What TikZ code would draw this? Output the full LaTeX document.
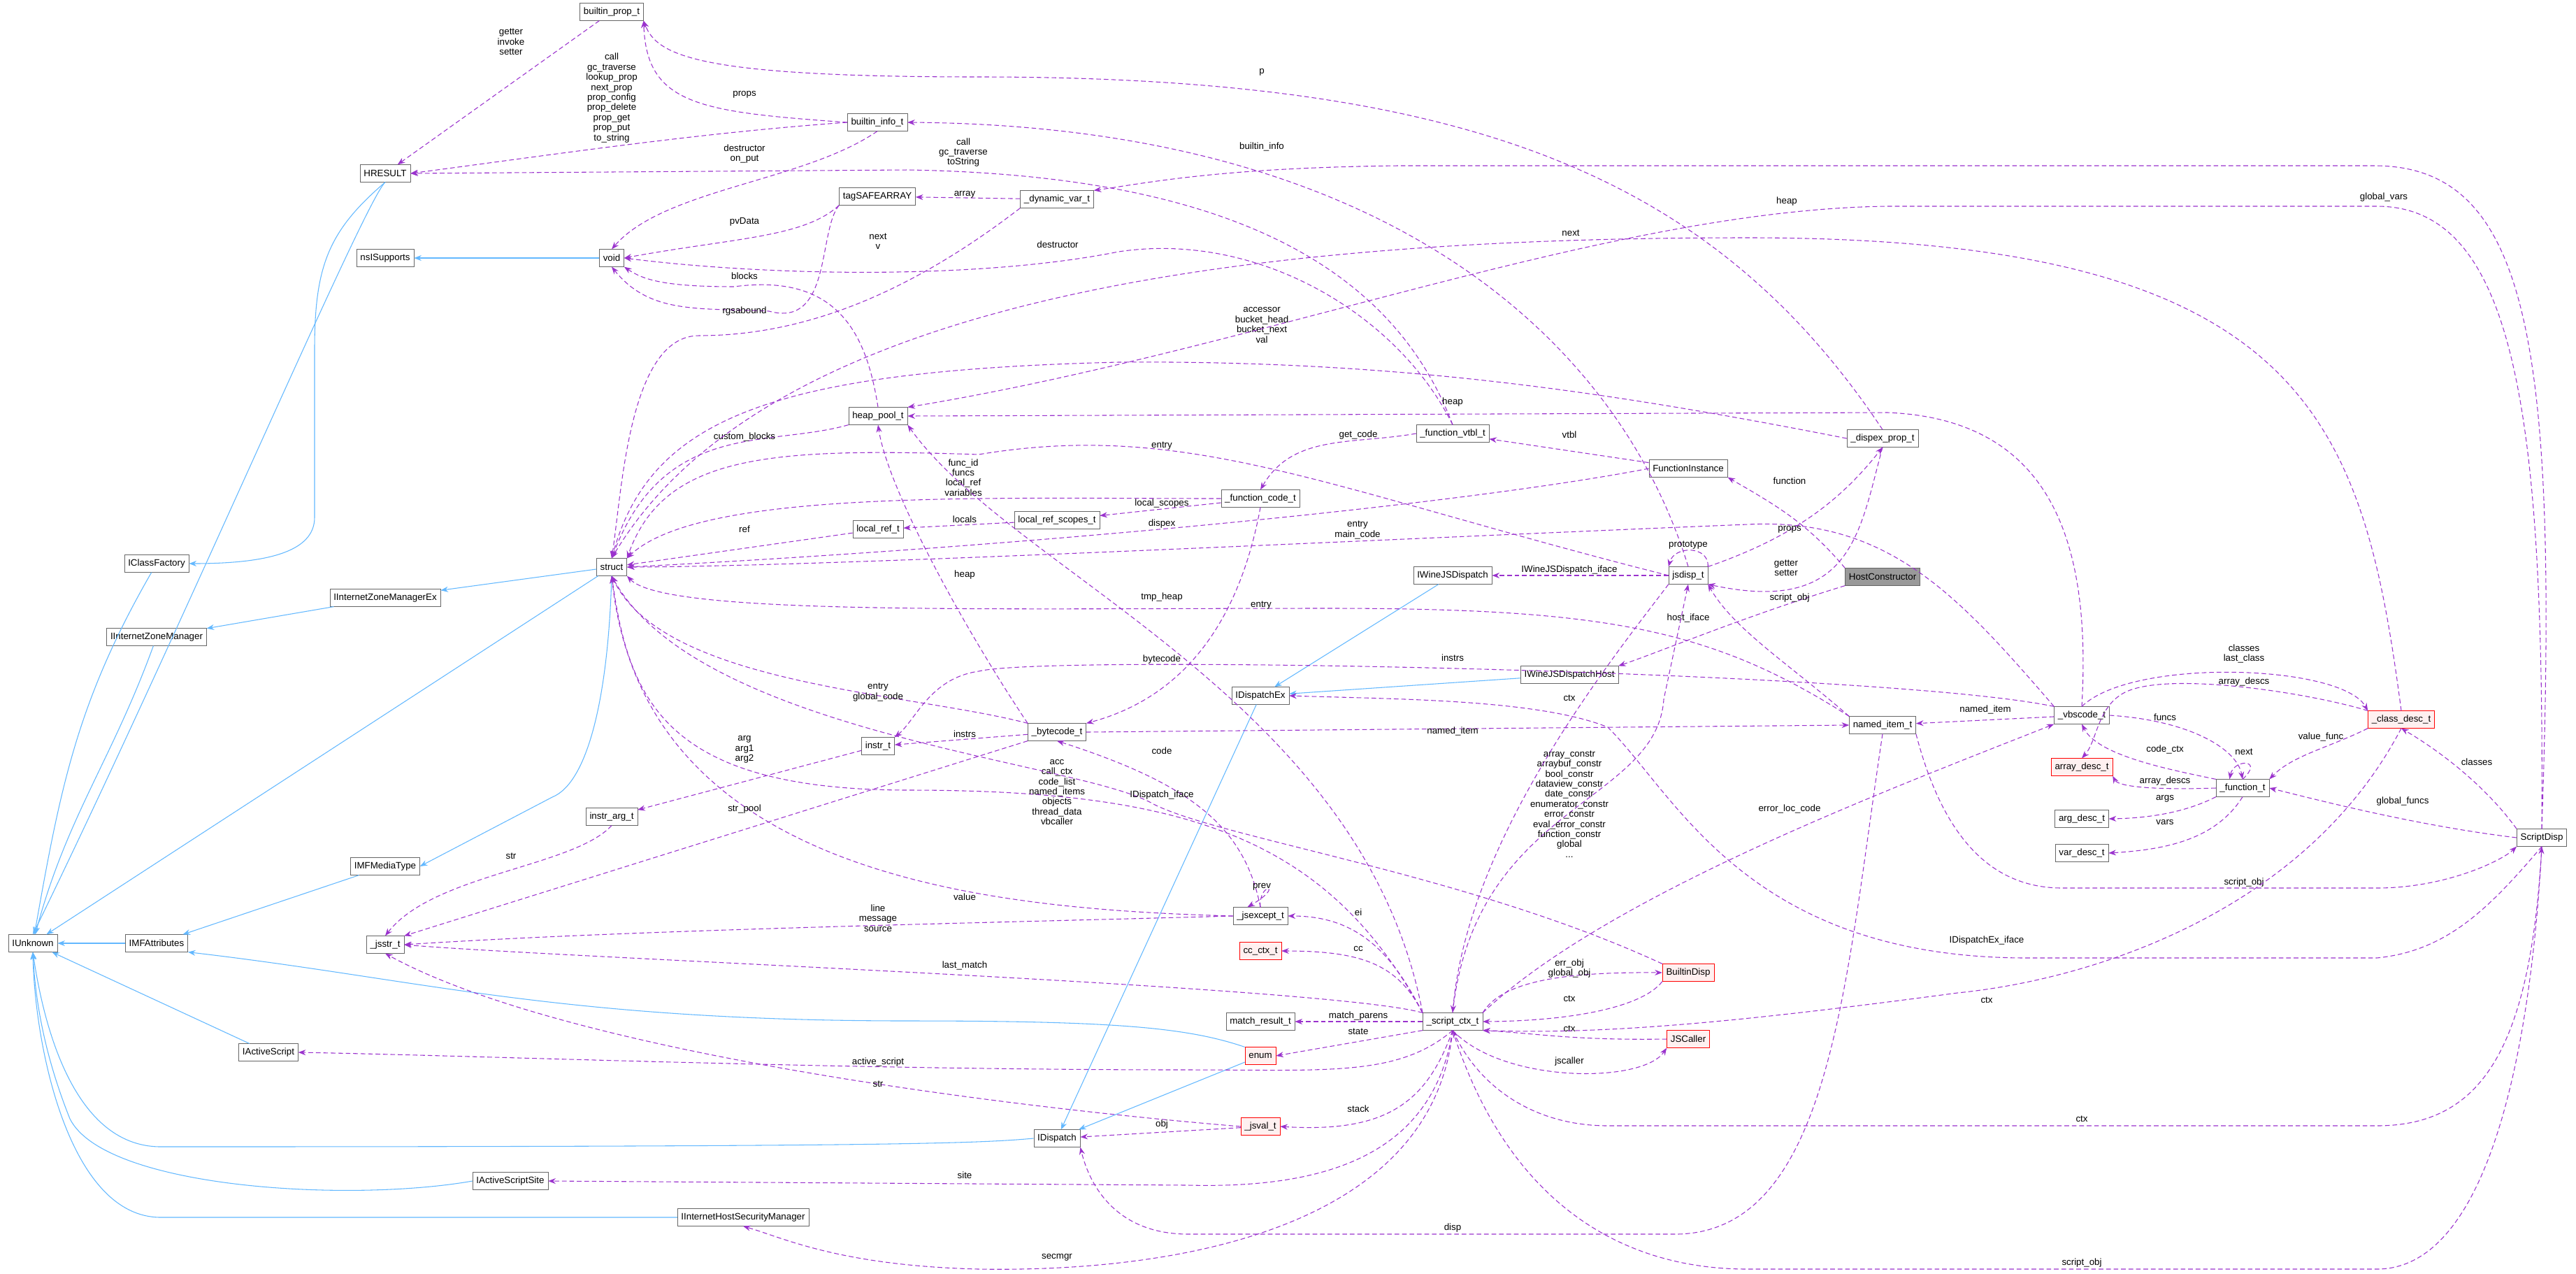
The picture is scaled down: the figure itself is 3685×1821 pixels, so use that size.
\documentclass[tikz,border=0pt]{standalone}
\usepackage{fontspec}
\setmainfont{Liberation Sans}
\usetikzlibrary{arrows.meta}
\definecolor{dep}{HTML}{9A32CD}
\definecolor{inh}{HTML}{63B8FF}
\tikzset{
 x=0.75pt,y=-0.75pt,
 box/.style={draw=black!60,fill=white,rectangle,minimum height=18.5pt,inner xsep=4pt,inner ysep=1pt,font=\fontsize{10}{11}\selectfont},
 redbox/.style={box,draw=red,fill=red!6},
 graybox/.style={box,draw=black!60,fill=black!40},
 dep/.style={draw=dep,thick,dash pattern=on 5pt off 3pt,-{Stealth[length=8pt,width=6pt]}},
 inh/.style={draw=inh,thick,-{Stealth[length=8pt,width=6pt]}},
 lbl/.style={font=\fontsize{10}{10.8}\selectfont,align=center,inner sep=0pt},
}
\begin{document}
\begin{tikzpicture}
\useasboundingbox (0,0) rectangle (3685,1821);
% nodes
\node[box] (builtinprop) at (875,17) {builtin\_prop\_t};
\node[box] (HRESULT) at (551,248) {HRESULT};
\node[box] (builtininfo) at (1255,175) {builtin\_info\_t};
\node[box] (tagSAFEARRAY) at (1255,281) {tagSAFEARRAY};
\node[box] (nsISupports) at (551,369) {nsISupports};
\node[box] (void) at (875,369) {void};
\node[box] (heappool) at (1256,595) {heap\_pool\_t};
\node[box] (localref) at (1256,757) {local\_ref\_t};
\node[box] (struct) at (875,811) {struct};
\node[box] (IClassFactory) at (224,806) {IClassFactory};
\node[box] (IIZMEx) at (551,855) {IInternetZoneManagerEx};
\node[box] (IIZM) at (224,911) {IInternetZoneManager};
\node[box] (instr) at (1256,1067) {instr\_t};
\node[box] (instrarg) at (875,1168) {instr\_arg\_t};
\node[box] (IMFMediaType) at (551,1239) {IMFMediaType};
\node[box] (IUnknown) at (47,1349) {IUnknown};
\node[box] (IMFAttributes) at (224,1349) {IMFAttributes};
\node[box] (jsstr) at (551,1351) {\_jsstr\_t};
\node[box] (IActiveScript) at (384,1505) {IActiveScript};
\node[box] (IActiveScriptSite) at (730,1689) {IActiveScriptSite};
\node[box] (IHSM) at (1063,1741) {IInternetHostSecurityManager};
\node[box] (dynvar) at (1512,285) {\_dynamic\_var\_t};
\node[box] (funcvtbl) at (2078,620) {\_function\_vtbl\_t};
\node[box] (FunctionInstance) at (2415,670) {FunctionInstance};
\node[box] (funccode) at (1803,713) {\_function\_code\_t};
\node[box] (localrefscopes) at (1512,744) {local\_ref\_scopes\_t};
\node[box] (IWineJSDispatch) at (2078,823) {IWineJSDispatch};
\node[box] (jsdisp) at (2415,823) {jsdisp\_t};
\node[box] (IWineJSDispatchHost) at (2245,965) {IWineJSDispatchHost};
\node[box] (IDispatchEx) at (1803,995) {IDispatchEx};
\node[box] (bytecode) at (1512,1047) {\_bytecode\_t};
\node[box] (jsexcept) at (1803,1310) {\_jsexcept\_t};
\node[redbox] (ccctx) at (1803,1360) {cc\_ctx\_t};
\node[redbox] (BuiltinDisp) at (2415,1391) {BuiltinDisp};
\node[box] (matchresult) at (1803,1461) {match\_result\_t};
\node[box] (scriptctx) at (2078,1461) {\_script\_ctx\_t};
\node[redbox] (JSCaller) at (2415,1486) {JSCaller};
\node[redbox] (enum) at (1803,1510) {enum};
\node[redbox] (jsval) at (1803,1611) {\_jsval\_t};
\node[box] (IDispatch) at (1512,1628) {IDispatch};
\node[box] (dispexprop) at (2693,627) {\_dispex\_prop\_t};
\node[graybox] (HostConstructor) at (2693,825) {HostConstructor};
\node[box] (nameditem) at (2693,1037) {named\_item\_t};
\node[box] (vbscode) at (2978,1023) {\_vbscode\_t};
\node[redbox] (classdesc) at (3435,1029) {\_class\_desc\_t};
\node[redbox] (arraydesc) at (2978,1097) {array\_desc\_t};
\node[box] (functiont) at (3208,1127) {\_function\_t};
\node[box] (argdesc) at (2978,1171) {arg\_desc\_t};
\node[box] (vardesc) at (2978,1220) {var\_desc\_t};
\node[box] (ScriptDisp) at (3636,1198) {ScriptDisp};
% inheritance
\draw[inh] (HRESULT.south) .. controls (520,290) and (260,900) .. (IUnknown.north);
\draw[inh] (HRESULT.south) .. controls (470,330) and (450,380) .. (450,500) -- (450,740) .. controls (450,790) and (380,806) .. (IClassFactory.east);
\draw[inh] (IClassFactory) to[out=240,in=80] (IUnknown);
\draw[inh] (void) -- (nsISupports);
\draw[inh] (struct) -- (IIZMEx);
\draw[inh] (IIZMEx) -- (IIZM);
\draw[inh] (IIZM) to[out=250,in=75] (IUnknown);
\draw[inh] (struct) -- (IUnknown);
\draw[inh] (struct.south) .. controls (870,1000) and (840,1120) .. (790,1140) -- (IMFMediaType.east);
\draw[inh] (IMFMediaType) -- (IMFAttributes);
\draw[inh] (IMFAttributes) -- (IUnknown);
\draw[inh] (IActiveScript) -- (IUnknown);
\draw[inh] (enum.north west) .. controls (1700,1470) and (1600,1460) .. (1300,1460) .. controls (800,1460) and (600,1400) .. (IMFAttributes.south east);
\draw[inh] (IDispatch.west) .. controls (1400,1635) and (1300,1640) .. (230,1640) .. controls (100,1640) and (60,1450) .. (IUnknown.south);
\draw[inh] (IActiveScriptSite.west) .. controls (500,1720) and (150,1700) .. (100,1600) .. controls (60,1500) and (50,1420) .. (IUnknown.south);
\draw[inh] (IHSM.west) -- (230,1741) .. controls (100,1741) and (50,1500) .. (IUnknown.south);
\draw[inh] (enum) -- (IDispatch);
\draw[inh] (IDispatchEx) -- (IDispatch);
\draw[inh] (IWineJSDispatch) -- (IDispatchEx);
\draw[inh] (IWineJSDispatchHost) -- (IDispatchEx);
% dependencies
\draw[dep] (builtinprop) -- (HRESULT);
\node[lbl] (l1) at (731,60) {getter\\invoke\\setter};
\draw[dep] (builtininfo.west) .. controls (1000,160) and (925,150) .. (builtinprop.south east);
\node[lbl] (l2) at (1065,135) {props};
\draw[dep] (builtininfo.west) .. controls (1000,190) and (800,220) .. (HRESULT.east);
\node[lbl] (l3) at (875,140) {call\\gc\_traverse\\lookup\_prop\\next\_prop\\prop\_config\\prop\_delete\\prop\_get\\prop\_put\\to\_string};
\draw[dep] (builtininfo.south) .. controls (1150,260) and (950,270) .. (void.north);
\node[lbl] (l4) at (1065,220) {destructor\\on\_put};
\draw[dep] (funcvtbl.north) .. controls (1980,350) and (1700,250) .. (1300,243) -- (HRESULT.east);
\node[lbl] (l5) at (1378,218) {call\\gc\_traverse\\toString};
\draw[dep] (dispexprop.north) .. controls (2450,250) and (2100,110) .. (1400,110) .. controls (1000,110) and (940,80) .. (builtinprop.south east);
\node[lbl] (l6) at (1805,103) {p};
\draw[dep] (jsdisp.north) .. controls (2320,500) and (2000,180) .. (builtininfo.east);
\node[lbl] (l7) at (1805,210) {builtin\_info};
\draw[dep] (dynvar) -- (tagSAFEARRAY);
\node[lbl] (l8) at (1380,278) {array};
\draw[dep] (tagSAFEARRAY.south west) .. controls (1150,340) and (1050,340) .. (void.east);
\node[lbl] (l9) at (1065,317) {pvData};
\draw[dep] (tagSAFEARRAY.south west) .. controls (1170,330) and (1190,470) .. (1100,445) .. controls (1000,440) and (930,450) .. (void.south);
\node[lbl] (l10) at (1065,445) {rgsabound};
\draw[dep] (heappool.north) .. controls (1240,480) and (1200,390) .. (1050,410) .. controls (950,410) and (920,400) .. (void.south east);
\node[lbl] (l11) at (1065,395) {blocks};
\draw[dep] (funcvtbl.north) .. controls (2000,450) and (1800,330) .. (1600,360) .. controls (1400,400) and (1100,395) .. (void.east);
\node[lbl] (l12) at (1513,350) {destructor};
\draw[dep] (dynvar.south west) .. controls (1300,420) and (1150,480) .. (1000,480) .. controls (900,480) and (890,700) .. (struct.north);
\node[lbl] (l13) at (1256,345) {next\\v};
\draw[dep] (heappool.south west) .. controls (1100,640) and (950,600) .. (struct.north);
\node[lbl] (l14) at (1065,625) {custom\_blocks};
\draw[dep] (localref) -- (struct);
\node[lbl] (l15) at (1065,757) {ref};
\draw[dep] (localrefscopes) -- (localref);
\node[lbl] (l16) at (1380,743) {locals};
\draw[dep] (funccode) -- (localrefscopes);
\node[lbl] (l17) at (1662,720) {local\_scopes};
\draw[dep] (funccode.west) .. controls (1400,713) and (1000,700) .. (struct.north east);
\node[lbl] (l18) at (1378,683) {func\_id\\funcs\\local\_ref\\variables};
\draw[dep] (jsdisp.west) .. controls (1900,700) and (1700,600) .. (1400,650) .. controls (1100,640) and (950,650) .. (struct.north east);
\node[lbl] (l19) at (1662,638) {entry};
\draw[dep] (FunctionInstance.west) .. controls (2100,720) and (1500,780) .. (struct.east);
\node[lbl] (l20) at (1662,749) {dispex};
\draw[dep] (vbscode.north west) .. controls (2800,850) and (2700,740) .. (2500,750) .. controls (2000,770) and (1200,810) .. (struct.east);
\node[lbl] (l21) at (1942,758) {entry\\main\_code};
\draw[dep] (nameditem.north west) .. controls (2450,900) and (2300,870) .. (1900,870) .. controls (1400,870) and (950,880) .. (struct.south east);
\node[lbl] (l22) at (1804,866) {entry};
\draw[dep] (dispexprop.west) .. controls (2300,560) and (2000,515) .. (1600,518) .. controls (1100,530) and (930,600) .. (struct.north);
\node[lbl] (l23) at (1805,465) {accessor\\bucket\_head\\bucket\_next\\val};
\draw[dep] (classdesc.north) .. controls (3380,600) and (3300,340) .. (2500,340) .. controls (1800,340) and (1100,420) .. (struct.north);
\node[lbl] (l24) at (2247,333) {next};
\draw[dep] (bytecode.north west) .. controls (1300,990) and (950,980) .. (struct.south);
\node[lbl] (l25) at (1256,990) {entry\\global\_code};
\draw[dep] (scriptctx.north west) .. controls (1900,1200) and (1700,1130) .. (1300,1130) .. controls (950,1130) and (900,1000) .. (struct.south);
\node[lbl] (l26) at (1512,1133) {acc\\call\_ctx\\code\_list\\named\_items\\objects\\thread\_data\\vbcaller};
\draw[dep] (jsexcept.west) .. controls (1400,1300) and (920,1250) .. (struct.south);
\node[lbl] (l27) at (1380,1283) {value};
\draw[dep] (scriptctx.north west) .. controls (1950,1000) and (1450,820) .. (heappool.south east);
\node[lbl] (l28) at (1662,854) {tmp\_heap};
\draw[dep] (bytecode.north west) .. controls (1380,900) and (1270,700) .. (heappool.south);
\node[lbl] (l29) at (1380,822) {heap};
\draw[dep] (HostConstructor.north west) to[out=130,in=-30] (FunctionInstance.south east);
\node[lbl] (l30) at (2560,688) {function};
\draw[dep] (jsdisp.north east) .. controls (2560,770) and (2630,720) .. (dispexprop.south);
\node[lbl] (l31) at (2560,757) {props};
\draw[dep] (dispexprop.south) .. controls (2660,760) and (2650,880) .. (jsdisp.south east);
\node[lbl] (l32) at (2555,812) {getter\\setter};
\draw[dep] (HostConstructor.south west) .. controls (2500,880) and (2380,930) .. (IWineJSDispatchHost.north east);
\node[lbl] (l33) at (2415,884) {host\_iface};
\draw[dep] (nameditem.north west) .. controls (2560,950) and (2480,900) .. (jsdisp.south east);
\node[lbl] (l34) at (2560,855) {script\_obj};
\draw[dep] (jsdisp.north east) .. controls (2445,780) and (2395,780) .. (jsdisp.north west);
\node[lbl] (l35) at (2415,780) {prototype};
\draw[dep] (jsdisp) -- (IWineJSDispatch);
\node[lbl] (l36) at (2245,815) {IWineJSDispatch\_iface};
\draw[dep] (FunctionInstance) -- (funcvtbl);
\node[lbl] (l37) at (2245,622) {vtbl};
\draw[dep] (funcvtbl.west) to[out=190,in=60] (funccode.north);
\node[lbl] (l38) at (1943,622) {get\_code};
\draw[dep] (funccode.south) .. controls (1780,850) and (1720,990) .. (bytecode.north east);
\node[lbl] (l39) at (1662,943) {bytecode};
\draw[dep] (bytecode) -- (instr);
\node[lbl] (l40) at (1380,1050) {instrs};
\draw[dep] (vbscode.north west) .. controls (2700,960) and (1500,935) .. (1400,960) .. controls (1330,970) and (1310,1030) .. (instr.north east);
\node[lbl] (l41) at (2078,941) {instrs};
\draw[dep] (instr) -- (instrarg);
\node[lbl] (l42) at (1065,1072) {arg\\arg1\\arg2};
\draw[dep] (instrarg.south) .. controls (820,1240) and (620,1250) .. (jsstr.north);
\node[lbl] (l43) at (731,1224) {str};
\draw[dep] (bytecode.south west) -- (jsstr.north east);
\node[lbl] (l44) at (1065,1157) {str\_pool};
\draw[dep] (jsexcept.north) .. controls (1780,1180) and (1700,1120) .. (bytecode.south);
\node[lbl] (l45) at (1662,1074) {code};
\draw[dep] (jsexcept.west) .. controls (1400,1320) and (900,1330) .. (jsstr.east);
\node[lbl] (l46) at (1256,1313) {line\\message\\source};
\draw[dep] (jsexcept.north) .. controls (1800,1260) and (1840,1265) .. ([xshift=-14pt]jsexcept.north);
\node[lbl] (l47) at (1805,1268) {prev};
\draw[dep] (scriptctx.north west) .. controls (1990,1360) and (1940,1310) .. (jsexcept.east);
\node[lbl] (l48) at (1943,1305) {ei};
\draw[dep] (scriptctx.north west) .. controls (2000,1380) and (1950,1360) .. (ccctx.east);
\node[lbl] (l49) at (1943,1357) {cc};
\draw[dep] (scriptctx.north west) .. controls (1900,1410) and (800,1370) .. (jsstr.east);
\node[lbl] (l50) at (1380,1381) {last\_match};
\draw[dep] (scriptctx) -- (matchresult);
\node[lbl] (l51) at (1943,1453) {match\_parens};
\draw[dep] (scriptctx.south west) -- (enum.east);
\node[lbl] (l52) at (1943,1475) {state};
\draw[dep] (scriptctx.south) .. controls (2000,1540) and (1900,1530) .. (1700,1530) .. controls (1200,1530) and (700,1510) .. (IActiveScript.east);
\node[lbl] (l53) at (1256,1519) {active\_script};
\draw[dep] (jsval.west) .. controls (1400,1580) and (800,1500) .. (jsstr.south);
\node[lbl] (l54) at (1256,1550) {str};
\draw[dep] (scriptctx.south) .. controls (2040,1580) and (1980,1620) .. (jsval.east);
\node[lbl] (l55) at (1943,1586) {stack};
\draw[dep] (jsval) -- (IDispatch);
\node[lbl] (l56) at (1662,1608) {obj};
\draw[dep] (scriptctx.south) .. controls (2050,1650) and (1900,1700) .. (1700,1695) -- (IActiveScriptSite.east);
\node[lbl] (l57) at (1380,1681) {site};
\draw[dep] (scriptctx.south) .. controls (2050,1750) and (1700,1820) .. (1400,1815) .. controls (1200,1810) and (1120,1770) .. (IHSM.south);
\node[lbl] (l58) at (1512,1798) {secmgr};
\draw[dep] (nameditem.south) .. controls (2640,1400) and (2620,1760) .. (2400,1765) -- (1700,1765) .. controls (1600,1765) and (1560,1700) .. (IDispatch.south east);
\node[lbl] (l59) at (2078,1756) {disp};
\draw[dep] (BuiltinDisp.north west) .. controls (2100,1250) and (1750,1200) .. (1650,1150) .. controls (1550,1090) and (1000,1050) .. (struct.south);
\node[lbl] (l60) at (1662,1137) {IDispatch\_iface};
\draw[dep] (scriptctx.north east) .. controls (2150,1400) and (2250,1390) .. (BuiltinDisp.west);
\node[lbl] (l61) at (2245,1385) {err\_obj\\global\_obj};
\draw[dep] (BuiltinDisp.south west) .. controls (2350,1440) and (2250,1460) .. (scriptctx.east);
\node[lbl] (l62) at (2245,1428) {ctx};
\draw[dep] (JSCaller.west) .. controls (2250,1488) and (2200,1478) .. (scriptctx.south east);
\node[lbl] (l63) at (2245,1471) {ctx};
\draw[dep] (scriptctx.south) .. controls (2150,1550) and (2350,1550) .. (JSCaller.south west);
\node[lbl] (l64) at (2245,1518) {jscaller};
\draw[dep] (scriptctx.north) .. controls (2110,1150) and (2370,1150) .. (2380,1000) -- (jsdisp.south);
\node[lbl] (l65) at (2245,1150) {array\_constr\\arraybuf\_constr\\bool\_constr\\dataview\_constr\\date\_constr\\enumerator\_constr\\error\_constr\\eval\_error\_constr\\function\_constr\\global\\...};
\draw[dep] (jsdisp.south west) .. controls (2300,950) and (2100,1200) .. (scriptctx.north);
\node[lbl] (l66) at (2245,998) {ctx};
\draw[dep] (bytecode.east) -- (nameditem.west);
\node[lbl] (l67) at (2078,1046) {named\_item};
\draw[dep] (vbscode) -- (nameditem);
\node[lbl] (l68) at (2840,1015) {named\_item};
\draw[dep] (scriptctx.north east) .. controls (2300,1280) and (2700,1130) .. (vbscode.south west);
\node[lbl] (l69) at (2560,1157) {error\_loc\_code};
\draw[dep] (vbscode.north) .. controls (3050,940) and (3350,950) .. (classdesc.north west);
\node[lbl] (l70) at (3210,935) {classes\\last\_class};
\draw[dep] (classdesc.north west) .. controls (3300,990) and (3100,960) .. (3040,990) .. controls (3000,1010) and (3000,1060) .. (arraydesc.north);
\node[lbl] (l71) at (3210,975) {array\_descs};
\draw[dep] (vbscode.east) .. controls (3130,1030) and (3200,1070) .. (functiont.north);
\node[lbl] (l72) at (3097,1026) {funcs};
\draw[dep] (functiont.north west) .. controls (3100,1100) and (3000,1080) .. (vbscode.south);
\node[lbl] (l73) at (3097,1072) {code\_ctx};
\draw[dep] (functiont.west) .. controls (3080,1130) and (3030,1125) .. (arraydesc.south east);
\node[lbl] (l74) at (3097,1117) {array\_descs};
\draw[dep] (functiont.south west) .. controls (3130,1160) and (3080,1170) .. (argdesc.east);
\node[lbl] (l75) at (3097,1142) {args};
\draw[dep] (functiont.south) .. controls (3170,1200) and (3100,1215) .. (vardesc.east);
\node[lbl] (l76) at (3097,1176) {vars};
\draw[dep] (functiont.north) .. controls (3240,1085) and (3195,1085) .. ([xshift=-14pt]functiont.north);
\node[lbl] (l77) at (3210,1075) {next};
\draw[dep] (classdesc.south west) .. controls (3330,1070) and (3280,1080) .. (functiont.north east);
\node[lbl] (l78) at (3320,1054) {value\_func};
\draw[dep] (ScriptDisp.north west) .. controls (3560,1130) and (3500,1080) .. (classdesc.south);
\node[lbl] (l79) at (3543,1090) {classes};
\draw[dep] (ScriptDisp.west) .. controls (3450,1180) and (3300,1140) .. (functiont.east);
\node[lbl] (l80) at (3437,1146) {global\_funcs};
\draw[dep] (nameditem.south east) .. controls (2780,1200) and (2850,1270) .. (2950,1270) -- (3400,1270) .. controls (3500,1270) and (3580,1230) .. (ScriptDisp.south west);
\node[lbl] (l81) at (3210,1262) {script\_obj};
\draw[dep] (ScriptDisp.south) .. controls (3560,1300) and (3500,1360) .. (3400,1370) -- (2900,1370) .. controls (2500,1370) and (2400,1140) .. (2300,1040) .. controls (2200,1000) and (2000,1000) .. (IDispatchEx.east);
\node[lbl] (l82) at (2842,1345) {IDispatchEx\_iface};
\draw[dep] (classdesc.south) .. controls (3300,1300) and (3000,1400) .. (2800,1420) .. controls (2500,1460) and (2300,1480) .. (scriptctx.south east);
\node[lbl] (l83) at (2842,1430) {ctx};
\draw[dep] (ScriptDisp.south) .. controls (3620,1500) and (3550,1610) .. (3400,1610) -- (2300,1610) .. controls (2200,1610) and (2120,1560) .. (scriptctx.south);
\node[lbl] (l84) at (2978,1600) {ctx};
\draw[dep] (scriptctx.south) .. controls (2150,1700) and (2300,1815) .. (2500,1815) -- (3400,1815) .. controls (3560,1815) and (3620,1500) .. (ScriptDisp.south);
\node[lbl] (l85) at (2978,1806) {script\_obj};
\draw[dep] (ScriptDisp.north) .. controls (3640,600) and (3600,295) .. (3400,295) -- (2700,295) .. controls (2300,300) and (1800,500) .. (heappool.north east);
\node[lbl] (l86) at (2556,288) {heap};
\draw[dep] (ScriptDisp.north) .. controls (3660,500) and (3620,240) .. (3400,237) -- (2000,237) .. controls (1750,240) and (1650,260) .. (dynvar.north east);
\node[lbl] (l87) at (3410,282) {global\_vars};
\draw[dep] (vbscode.north) .. controls (2990,800) and (2950,600) .. (2700,590) -- (heappool.east);
\node[lbl] (l88) at (2078,575) {heap};
\end{tikzpicture}
\end{document}
